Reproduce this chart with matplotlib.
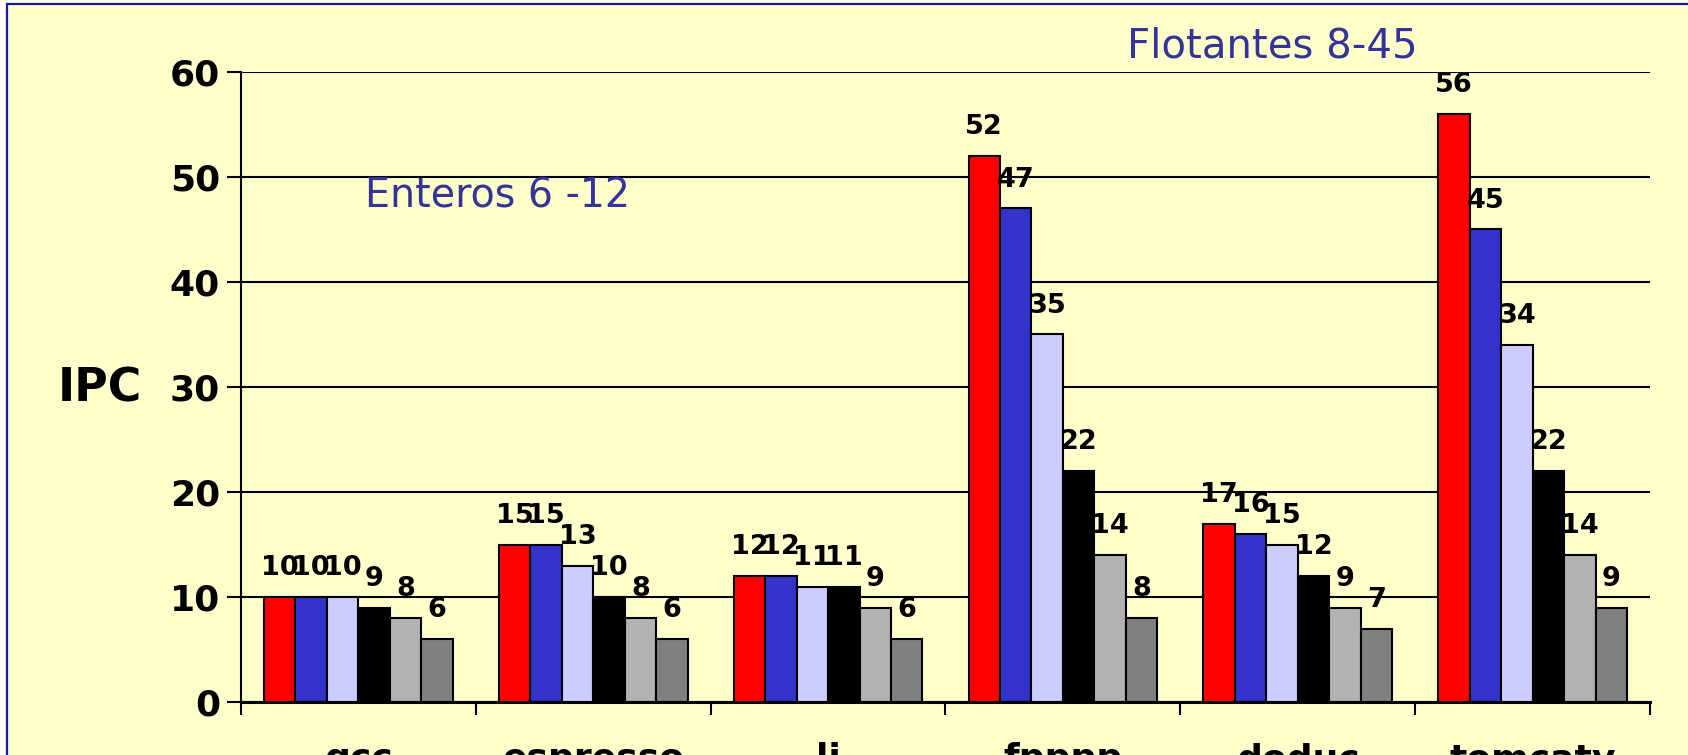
import matplotlib
matplotlib.use("Agg")
import matplotlib.pyplot as plt
from matplotlib.patches import Rectangle
from matplotlib.transforms import blended_transform_factory
import numpy as np

# Benchmarks and IPC per configuration (six machine configurations)
benchmarks = ["gcc", "espresso", "li", "fpppp", "doduc", "tomcatv"]
config_1 = [10, 15, 12, 52, 17, 56]
config_2 = [10, 15, 12, 47, 16, 45]
config_3 = [10, 13, 11, 35, 15, 34]
config_4 = [9, 10, 11, 22, 12, 22]
config_5 = [8, 8, 9, 14, 9, 14]
config_6 = [6, 6, 6, 8, 7, 9]
series = [config_1, config_2, config_3, config_4, config_5, config_6]
colors = ["#FF0000", "#3333CC", "#CCCCFF", "#000000", "#B2B2B2", "#808080"]
y_ticks = [0, 10, 20, 30, 40, 50, 60]

W, H, DPI = 1688, 755, 100
fig = plt.figure(figsize=(W / DPI, H / DPI), dpi=DPI, facecolor="white")

# slide frame
fig.patches.append(Rectangle((7 / W, 0 - 0.01), 1.05, 1 - 4 / H + 0.01,
                             transform=fig.transFigure, facecolor="#FFFFCC",
                             edgecolor="#1A1AA6", linewidth=1.6, zorder=-5))

ax = fig.add_axes([241 / W, 1 - 702 / H, 1409 / W, 630 / H])
ax.patch.set_visible(False)

n_series = len(series)
bar_w = 0.134
x = np.arange(len(benchmarks))
font = "DejaVu Sans"

for i, (vals, col) in enumerate(zip(series, colors)):
    offs = (i - (n_series - 1) / 2) * bar_w
    ax.bar(x + offs, vals, width=bar_w, color=col, edgecolor="black",
           linewidth=1.5, zorder=3)
    for xi, v in zip(x + offs, vals):
        ax.annotate(str(v), (xi, v), xytext=(0, 15.5), textcoords="offset points",
                    ha="center", va="baseline", fontsize=19.5, fontweight="bold",
                    family=font, zorder=5)

ax.set_xlim(-0.5, len(benchmarks) - 0.5)
ax.set_ylim(0, 60)
ax.set_yticks(y_ticks)
ax.set_yticklabels([str(t) for t in y_ticks], fontsize=26, fontweight="bold",
                   family=font)
ax.set_xticks(np.arange(len(benchmarks) + 1) - 0.5)
ax.set_xticklabels([])
ax.tick_params(axis="y", length=10, width=1.5, pad=5, direction="out")
ax.tick_params(axis="x", length=9, width=1.5, direction="out")
ax.yaxis.grid(True, color="black", linewidth=1.5, zorder=1)
ax.set_axisbelow(True)
for s in ["top", "right"]:
    ax.spines[s].set_visible(False)
ax.spines["left"].set_linewidth(1.5)
ax.spines["bottom"].set_linewidth(2.2)
ax.spines["bottom"].set_zorder(4)

# category names below the axis
trans = blended_transform_factory(ax.transData, ax.transAxes)
for xi, name in zip(x, benchmarks):
    ax.text(xi, -40 / 630, name, transform=trans, ha="center", va="top",
            fontsize=26, fontweight="bold", family=font, clip_on=False)

fig.text(100 / W, 1 - 402 / H, "IPC", ha="center", va="baseline",
         fontsize=33, fontweight="bold", family=font)

fig.text(365 / W, 1 - 207 / H, "Enteros 6 -12", ha="left", va="baseline",
         fontsize=28.5, color="#333399", family=font)
fig.text(1127 / W, 1 - 58 / H, "Flotantes 8-45", ha="left", va="baseline",
         fontsize=29, color="#333399", family=font)

fig.savefig("out.png", dpi=DPI)
